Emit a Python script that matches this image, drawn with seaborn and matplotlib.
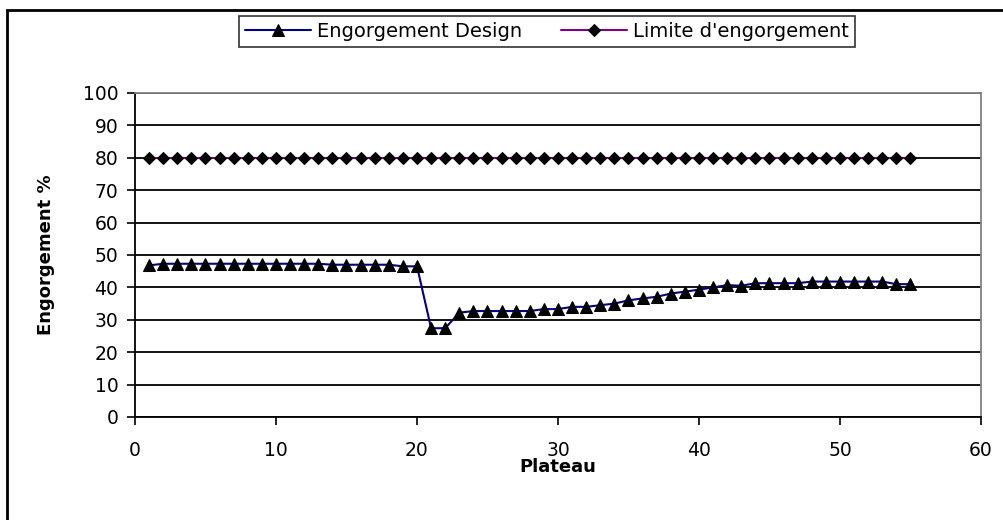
import matplotlib
matplotlib.use("Agg")
import matplotlib.pyplot as plt
import seaborn as sns
import pandas as pd

# Plateau numbers and flooding values (%)
plateau = list(range(1, 56))
engorgement_design = [
    46.8, 47.3, 47.3, 47.3, 47.3, 47.3, 47.3, 47.3, 47.3, 47.3,
    47.3, 47.3, 47.3, 47.0, 47.0, 47.0, 47.0, 47.0, 46.5, 46.5,
    27.4, 27.4, 32.2, 32.7, 32.7, 32.7, 32.7, 32.7, 33.3, 33.3,
    34.0, 34.0, 34.5, 35.0, 36.0, 36.6, 37.1, 38.1, 38.7, 39.3,
    40.0, 40.7, 40.5, 41.3, 41.3, 41.3, 41.3, 41.8, 41.8, 41.8,
    41.8, 41.8, 41.8, 41.0, 41.0,
]
limite_engorgement = [80] * 55

series_names = ["Engorgement Design", "Limite d'engorgement"]
x_ticks = [0, 10, 20, 30, 40, 50, 60]
y_ticks = [0, 10, 20, 30, 40, 50, 60, 70, 80, 90, 100]

df = pd.DataFrame({
    "Plateau": plateau * 2,
    "Engorgement": engorgement_design + limite_engorgement,
    "Serie": [series_names[0]] * 55 + [series_names[1]] * 55,
})

sns.set_style("white")
plt.rcParams["font.family"] = ["DejaVu Sans"]
plt.rcParams["text.color"] = "black"
plt.rcParams["axes.labelcolor"] = "black"

fig = plt.figure(figsize=(10.04, 5.2), dpi=100)
ax = fig.add_axes([135 / 1004, (520 - 417) / 520, (981 - 135) / 1004, (417 - 93) / 520])

styles = {
    series_names[0]: dict(color="#000080", marker="^", markersize=8),
    series_names[1]: dict(color="#800080", marker="D", markersize=6.5),
}
for name in series_names:
    sub = df[df["Serie"] == name]
    st = styles[name]
    sns.lineplot(data=sub, x="Plateau", y="Engorgement", ax=ax, color=st["color"],
                 marker=st["marker"], markersize=st["markersize"],
                 markerfacecolor="black", markeredgecolor="black",
                 linewidth=1.5, label=name, zorder=3)

ax.set_xlim(0, 60)
ax.set_ylim(0, 100)
ax.set_xticks(x_ticks)
ax.set_yticks(y_ticks)
ax.yaxis.grid(True, color="black", linewidth=1.3, zorder=0)
ax.xaxis.grid(False)
ax.set_axisbelow(True)

for side in ("left", "bottom"):
    ax.spines[side].set_color("black")
    ax.spines[side].set_linewidth(1.3)
for side in ("top", "right"):
    ax.spines[side].set_color("#808080")
    ax.spines[side].set_linewidth(1.3)

ax.tick_params(axis="both", direction="out", length=6, width=1.2, color="black",
               labelsize=13.5, labelcolor="black", pad=6)
ax.tick_params(axis="x", pad=11, bottom=True)
ax.tick_params(axis="y", left=True)

ax.set_xlabel("Plateau", fontsize=13, fontweight="bold", labelpad=-1)
ax.set_ylabel("Engorgement %", fontsize=13, fontweight="bold", labelpad=20)

leg = ax.legend(loc="center", bbox_to_anchor=(547 / 1004, (520 - 31.5) / 520),
                bbox_transform=fig.transFigure, ncol=2, frameon=True, fancybox=False,
                edgecolor="black", fontsize=14, handlelength=3.4, columnspacing=2.0,
                handletextpad=0.3, borderpad=0.3, borderaxespad=0)
leg.get_frame().set_linewidth(1.2)
for t in leg.get_texts():
    t.set_color("black")

# Outer chart frame
fig.patches.append(plt.Rectangle((7 / 1004, -0.05), 1.2, (520 - 10) / 520 + 0.05,
                                 transform=fig.transFigure, fill=False,
                                 edgecolor="black", linewidth=2, figure=fig))

fig.savefig("out.png", dpi=100)
